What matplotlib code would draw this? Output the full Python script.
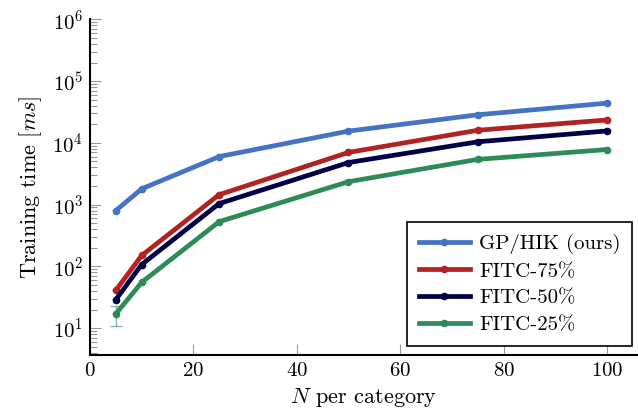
import matplotlib
matplotlib.use("Agg")
import matplotlib.pyplot as plt
from matplotlib.ticker import LogLocator, NullFormatter

plt.rcParams["font.family"] = "serif"
plt.rcParams["font.serif"] = ["cmr10"]
plt.rcParams["mathtext.fontset"] = "cm"
plt.rcParams["axes.formatter.use_mathtext"] = True

n_per_cat = [5, 10, 25, 50, 75, 100]
gp_hik = [800, 1800, 6000, 15500, 28500, 44000]
fitc_75 = [41, 150, 1450, 7000, 16000, 23500]
fitc_50 = [29, 107, 1040, 4800, 10400, 15600]
fitc_25 = [17, 55, 530, 2350, 5400, 7800]
fitc_25_err_lo = [6, 0, 0, 0, 0, 0]
fitc_25_err_hi = [6, 0, 0, 0, 0, 0]

series = [
    ("GP/HIK (ours)", gp_hik, "#4472c4"),
    ("FITC-75%", fitc_75, "#b22222"),
    ("FITC-50%", fitc_50, "#000046"),
    ("FITC-25%", fitc_25, "#2e8b57"),
]

fig = plt.figure(figsize=(6.38, 4.12), dpi=100)
ax = fig.add_axes([0.141, 0.138, 0.859, 0.815])

for label, vals, col in series:
    ax.plot(n_per_cat, vals, color=col, lw=3.4, marker="o", ms=4.5,
            label=label, zorder=3)

ax.errorbar(n_per_cat[:1], fitc_25[:1],
            yerr=[fitc_25_err_lo[:1], fitc_25_err_hi[:1]],
            fmt="none", ecolor="#2e8b57", alpha=0.6, elinewidth=1,
            capsize=4, zorder=2)

ax.set_yscale("log")
ax.set_xlim(0, 106)
ax.set_ylim(3.65, 1e6)
ax.set_xticks([0, 20, 40, 60, 80, 100])
ax.yaxis.set_major_locator(LogLocator(base=10, numticks=10))
ax.yaxis.set_minor_locator(LogLocator(base=10, subs=range(2, 10), numticks=20))
ax.yaxis.set_minor_formatter(NullFormatter())

for s in ["top", "right"]:
    ax.spines[s].set_visible(False)
for s in ["left", "bottom"]:
    ax.spines[s].set_linewidth(1.5)

ax.tick_params(axis="both", which="major", direction="in", length=8,
               color="#999999", width=0.8, labelsize=15, pad=5)
ax.tick_params(axis="y", which="minor", direction="in", length=5,
               color="#999999", width=0.8)

ax.set_xlabel("$N$ per category", fontsize=16, labelpad=4)
ax.set_ylabel("Training time [$ms$]", fontsize=16, labelpad=6)

leg = ax.legend(loc="lower right", bbox_to_anchor=(0.9906, 0.160),
                bbox_transform=fig.transFigure, borderaxespad=0,
                fontsize=15, frameon=True, fancybox=False,
                edgecolor="black", framealpha=1, handlelength=2.45,
                handletextpad=0.45, borderpad=0.55, labelspacing=0.4)
leg.get_frame().set_linewidth(1.2)

fig.savefig("out.png", dpi=100)
